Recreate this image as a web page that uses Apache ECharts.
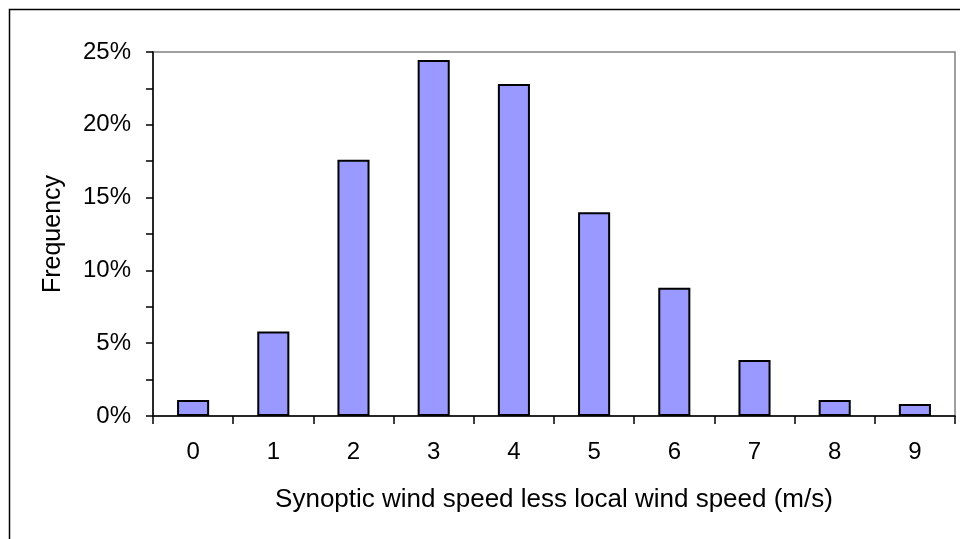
<!DOCTYPE html>
<html>
<head>
<meta charset="utf-8">
<script src="https://cdn.jsdelivr.net/npm/echarts@6/dist/echarts.min.js"></script>
<style>html,body{margin:0;padding:0;background:#fff;}#c{width:960px;height:539px;}</style>
</head>
<body>
<div id="c"></div>
<script>
const categories = ['0','1','2','3','4','5','6','7','8','9'];
const frequency = [1.1, 5.8, 17.6, 24.45, 22.8, 14.0, 8.8, 3.85, 1.1, 0.82];
const yTicks = [0, 5, 10, 15, 20, 25];

const chart = echarts.init(document.getElementById('c'), null, {renderer: 'canvas'});
const font = 'Liberation Sans, Arial, sans-serif';
chart.setOption({
  animation: false,
  backgroundColor: '#fff',
  graphic: [{
    type: 'rect', shape: {x: 9.5, y: 9.5, width: 1000, height: 600},
    style: {fill: 'none', stroke: '#000', lineWidth: 1.5}, z: -1
  }],
  grid: {left: 153, right: 5, top: 52, bottom: 123, show: true, borderColor: '#808080', borderWidth: 1.5, backgroundColor: 'transparent'},
  xAxis: {
    type: 'category', data: categories,
    name: 'Synoptic wind speed less local wind speed (m/s)',
    nameLocation: 'middle', nameGap: 71,
    nameTextStyle: {fontFamily: font, fontSize: 26, color: '#000'},
    axisLine: {lineStyle: {color: '#000', width: 1.5}},
    axisTick: {show: true, length: 8, lineStyle: {color: '#000', width: 1.5}},
    axisLabel: {fontFamily: font, fontSize: 24, color: '#000', margin: 24}
  },
  yAxis: {
    type: 'value', min: 0, max: 25, interval: 2.5,
    name: 'Frequency', nameLocation: 'middle', nameGap: 87,
    nameTextStyle: {fontFamily: font, fontSize: 25, color: '#000'},
    axisLine: {show: true, lineStyle: {color: '#000', width: 1.5}},
    axisTick: {show: true, length: 7, lineStyle: {color: '#000', width: 1.5}},
    splitLine: {show: false},
    axisLabel: {fontFamily: font, fontSize: 24, color: '#000', margin: 22,
      formatter: v => yTicks.indexOf(v) >= 0 ? v + '%' : ''}
  },
  series: [{
    type: 'bar', data: frequency, barWidth: '40%',
    itemStyle: {color: '#9999FF', borderColor: '#000', borderWidth: 2}
  }]
});
</script>
</body>
</html>
